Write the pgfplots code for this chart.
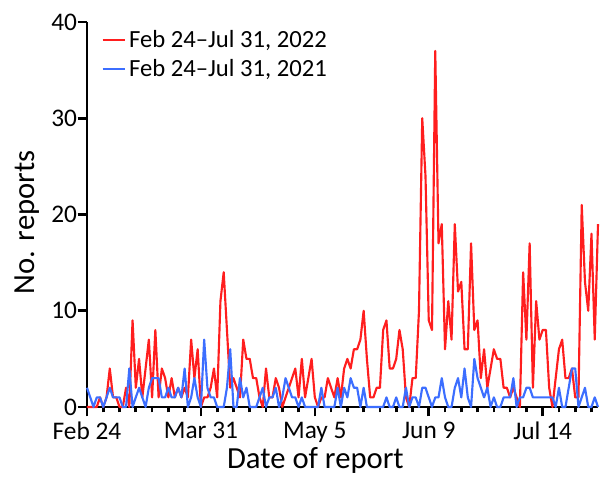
\documentclass[border=0pt]{standalone}
\usepackage{pgfplots}
\pgfplotsset{compat=1.18}
\usepackage{pgfplotstable}
\usepackage{fontspec}
\setmainfont{Carlito}
\definecolor{cred}{RGB}{255,30,30}
\definecolor{cblue}{RGB}{60,110,255}

\pgfplotstableread{
d r b
0 0 2
1 0 1
2 0 0
3 0 1
4 1 1
5 0 0
6 1 1
7 4 2
8 1 1
9 1 1
10 0 1
11 0 0
12 2 0
13 0 4
14 9 0
15 2 1
16 5 2
17 1 1
18 4 0
19 7 2
20 1 3
21 8 3
22 1 3
23 4 1
24 3 1
25 1 2
26 3 1
27 1 1
28 2 2
29 1 1
30 2 4
31 1 0
32 7 1
33 3 3
34 6 1
35 0 0
36 1 7
37 1 2
38 2 1
39 4 1
40 1 0
41 11 0
42 14 0
43 8 2
44 2 6
45 3 0
46 2 0
47 1 3
48 7 1
49 5 2
50 5 0
51 3 0
52 3 0
53 1 1
54 0 2
55 4 0
56 1 1
57 1 1
58 3 2
59 2 0
60 0 1
61 1 3
62 2 2
63 3 1
64 4 1
65 1 0
66 5 1
67 1 0
68 3 0
69 5 0
70 1 0
71 0 0
72 1 2
73 1 0
74 3 0
75 2 0
76 1 0
77 3 2
78 1 0
79 4 2
80 5 1
81 4 3
82 6 2
83 6 2
84 7 0
85 10 2
86 5 0
87 1 0
88 1 0
89 2 0
90 2 0
91 8 0
92 9 1
93 4 0
94 4 0
95 5 1
96 8 0
97 6 0
98 1 2
99 0 0
100 3 1
101 3 1
102 10 0
103 30 2
104 24 2
105 9 1
106 8 0
107 37 1
108 17 1
109 19 3
110 6 1
111 11 0
112 7 0
113 19 2
114 12 3
115 13 1
116 6 4
117 6 1
118 17 0
119 8 5
120 9 3
121 3 2
122 6 1
123 2 2
124 4 0
125 6 1
126 5 0
127 5 0
128 2 1
129 2 1
130 1 1
131 2 3
132 1 0
133 0 1
134 14 1
135 7 2
136 17 2
137 2 1
138 11 1
139 7 1
140 8 1
141 8 1
142 2 1
143 0 1
144 3 0
145 6 2
146 7 0
147 3 0
148 3 2
149 4 4
150 1 4
151 1 0
152 21 1
153 13 2
154 10 0
155 18 0
156 7 1
157 19 0
}\datatable

\begin{document}
\begin{tikzpicture}
\begin{axis}[
  scale only axis,
  width=383.25pt, height=288.75pt,
  xmin=0, xmax=157, ymin=0, ymax=40,
  axis x line=bottom, axis y line=left,
  axis line style={-, line width=2pt, black},
  xtick={0,35,70,105,140},
  xticklabels={Feb 24, Mar 31, May 5, Jun 9, Jul 14},
  minor xtick={5,10,15,20,25,30,40,45,50,55,60,65,75,80,85,90,95,100,110,115,120,125,130,135,145,150,155},
  ytick={0,10,20,30,40},
  tick align=outside,
  major tick length=7pt,
  minor tick length=4pt,
  every tick/.style={black, line width=2pt},
  /pgf/number format/assume math mode=true,
  tick label style={font=\fontsize{19}{21}\selectfont},
  xticklabel style={yshift=-1pt},
  yticklabel style={xshift=3pt},
  xlabel={Date of report},
  ylabel={No. reports},
  label style={font=\fontsize{23}{26}\selectfont},
  x label style={at={(axis description cs:0.447,-0.138)}, anchor=center},
  y label style={at={(axis description cs:-0.117,0.48)}, anchor=center, rotate=0},
  legend style={at={(axis description cs:0.028,0.985)}, anchor=north west,
    draw=none, fill=none, font=\fontsize{18.5}{19}\selectfont,
    row sep=3pt, inner sep=0pt},
  legend cell align=left,
  legend image code/.code={\draw[#1] (0pt,0pt) -- (17pt,0pt);},
  clip=false,
]
\coordinate (O) at (rel axis cs:0,0);
\addplot[cred, line width=1.6pt, line join=round] table[x=d, y=r] {\datatable};
\addlegendentry{Feb 24–Jul 31, 2022}
\addplot[cblue, line width=1.6pt, line join=round] table[x=d, y=b] {\datatable};
\addlegendentry{Feb 24–Jul 31, 2021}
\end{axis}
\pgfresetboundingbox
\path[use as bounding box] ([shift={(-65.25pt,-51.75pt)}]O) rectangle ([shift={(384.75pt,305.25pt)}]O);
\end{tikzpicture}
\end{document}
